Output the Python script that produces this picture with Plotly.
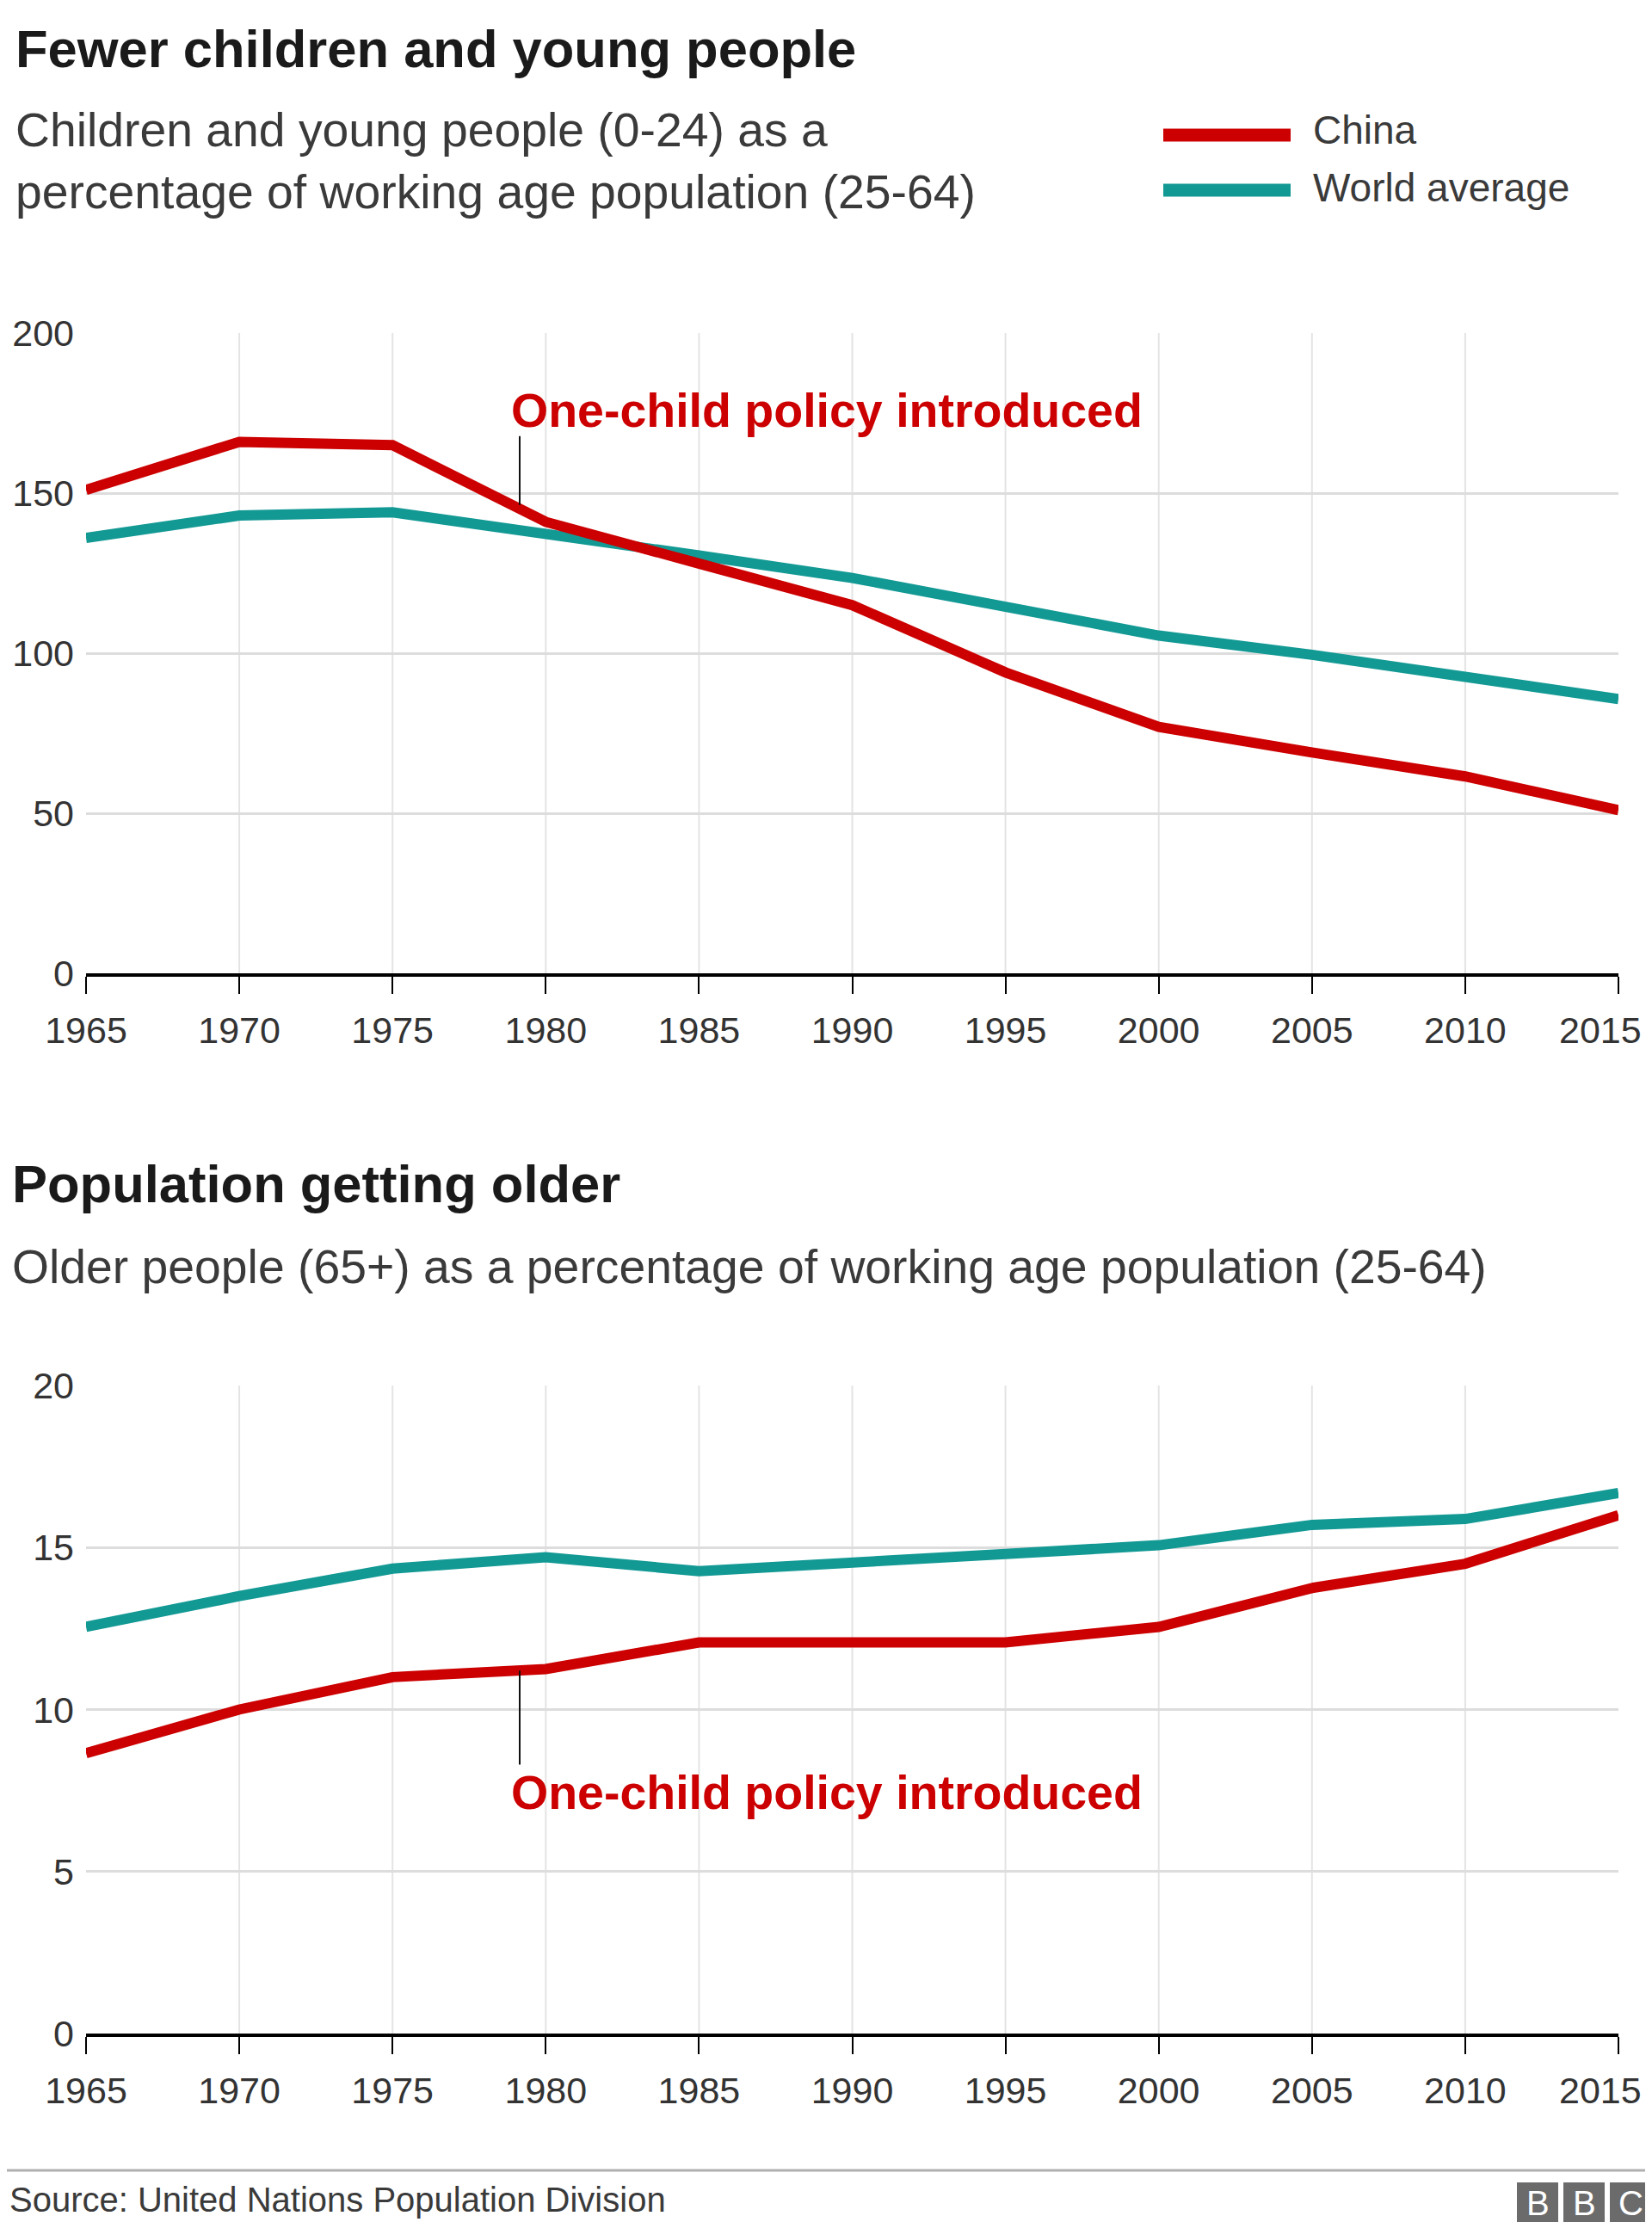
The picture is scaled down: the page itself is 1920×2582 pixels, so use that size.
import plotly.graph_objects as go

# ---------------- data ----------------
YEARS = [1965, 1970, 1975, 1980, 1985, 1990, 1995, 2000, 2005, 2010, 2015]
YEAR_LABELS = ["1965", "1970", "1975", "1980", "1985", "1990", "1995", "2000", "2005", "2010", "2015"]

CHINA_YOUNG = [151, 166, 165, 141, 128, 115, 94, 77, 69, 61.5, 51]
WORLD_YOUNG = [136, 143, 144, 137.5, 130.5, 123.5, 114.5, 105.5, 99.5, 92.5, 85.7]

CHINA_OLD = [8.65, 10.0, 11.0, 11.25, 12.07, 12.07, 12.07, 12.55, 13.75, 14.5, 16.0]
WORLD_OLD = [12.55, 13.5, 14.35, 14.7, 14.27, 14.5, 14.8, 15.07, 15.7, 15.88, 16.68]

Y_TICKS_TOP = [0, 50, 100, 150, 200]
Y_TICKS_BOTTOM = [0, 5, 10, 15, 20]

SERIES_NAMES = ["China", "World average"]
POLICY_YEAR = 1979.15
POLICY_LABEL = "One-child policy introduced"

TITLE_TOP = "Fewer children and young people"
SUBTITLE_TOP = "Children and young people (0-24) as a<br>percentage of working age population (25-64)"
TITLE_BOTTOM = "Population getting older"
SUBTITLE_BOTTOM = "Older people (65+) as a percentage of working age population (25-64)"
SOURCE = "Source: United Nations Population Division"

# ---------------- style ----------------
PAGE_OFFSET = 8              # default body margin of the html page
W, H = 1920 - PAGE_OFFSET, 2582 - PAGE_OFFSET
FONT = "Liberation Sans, Arial, Helvetica, sans-serif"
RED = "#cc0000"
TEAL = "#139994"
TEXT = "#333333"
GRID_H = "#dddddd"
GRID_V = "#e4e4e4"
LINE_W = 12
TICK_SIZE = 43


def py(px):
    """screen pixel from top -> paper y"""
    return 1 - (px - PAGE_OFFSET) / H


def pxx(px):
    """screen pixel from left -> paper x"""
    return (px - PAGE_OFFSET) / W


X_DOM = [pxx(100), pxx(1881)]
Y_DOM_TOP = [py(1131), py(387)]
Y_DOM_BOT = [py(2363), py(1610)]

fig = go.Figure()

# top chart
fig.add_trace(go.Scatter(x=YEARS, y=WORLD_YOUNG, mode="lines", name=SERIES_NAMES[1],
                         line=dict(color=TEAL, width=LINE_W), xaxis="x", yaxis="y",
                         showlegend=False, hoverinfo="skip"))
fig.add_trace(go.Scatter(x=YEARS, y=CHINA_YOUNG, mode="lines", name=SERIES_NAMES[0],
                         line=dict(color=RED, width=LINE_W), xaxis="x", yaxis="y",
                         showlegend=False, hoverinfo="skip"))
# bottom chart
fig.add_trace(go.Scatter(x=YEARS, y=WORLD_OLD, mode="lines", name=SERIES_NAMES[1],
                         line=dict(color=TEAL, width=LINE_W), xaxis="x2", yaxis="y2",
                         showlegend=False, hoverinfo="skip"))
fig.add_trace(go.Scatter(x=YEARS, y=CHINA_OLD, mode="lines", name=SERIES_NAMES[0],
                         line=dict(color=RED, width=LINE_W), xaxis="x2", yaxis="y2",
                         showlegend=False, hoverinfo="skip"))

# the last year label is drawn right-aligned inside the page (as in the original)
tick_text = YEAR_LABELS[:-1] + [""]

xaxis_common = dict(
    range=[YEARS[0], YEARS[-1]], tickvals=YEARS, ticktext=tick_text,
    ticks="outside", ticklen=20, tickwidth=2, tickcolor="#000000",
    showline=True, linewidth=4, linecolor="#000000", showgrid=False, zeroline=False,
    tickfont=dict(family=FONT, size=TICK_SIZE, color=TEXT), domain=X_DOM, fixedrange=True,
    automargin=False, ticklabeloverflow="allow", ticklabelstandoff=5,
)
yaxis_common = dict(
    showgrid=True, gridcolor=GRID_H, gridwidth=3, ticks="", showline=False, zeroline=False,
    tickfont=dict(family=FONT, size=TICK_SIZE, color=TEXT), fixedrange=True, ticklabelstandoff=13,
    automargin=False, ticklabeloverflow="allow",
)

fig.update_layout(
    width=W, height=H, margin=dict(l=0, r=0, t=0, b=0, autoexpand=False),
    paper_bgcolor="white", plot_bgcolor="white",
    font=dict(family=FONT, color=TEXT),
    xaxis=dict(anchor="y", **xaxis_common),
    yaxis=dict(anchor="x", domain=Y_DOM_TOP, range=[Y_TICKS_TOP[0], Y_TICKS_TOP[-1]],
               tickvals=Y_TICKS_TOP, **yaxis_common),
    xaxis2=dict(anchor="y2", **xaxis_common),
    yaxis2=dict(anchor="x2", domain=Y_DOM_BOT, range=[Y_TICKS_BOTTOM[0], Y_TICKS_BOTTOM[-1]],
                tickvals=Y_TICKS_BOTTOM, **yaxis_common),
    showlegend=False,
)

shapes = []
# vertical gridlines (interior years only)
for xr, yr in (("x", "y"), ("x2", "y2")):
    for yv in YEARS[1:-1]:
        shapes.append(dict(type="line", xref=xr, yref=yr + " domain", x0=yv, x1=yv, y0=0, y1=1,
                           line=dict(color=GRID_V, width=2), layer="below"))

# policy annotation leader lines
shapes.append(dict(type="line", xref="x", yref="y", x0=POLICY_YEAR, x1=POLICY_YEAR,
                   y0=146.3, y1=167.8, line=dict(color="#111111", width=2)))
shapes.append(dict(type="line", xref="x2", yref="y2", x0=POLICY_YEAR, x1=POLICY_YEAR,
                   y0=8.3, y1=11.2, line=dict(color="#111111", width=2)))

# legend swatches
for col, ypx in ((RED, 157), (TEAL, 221)):
    shapes.append(dict(type="line", xref="paper", yref="paper", x0=pxx(1352), x1=pxx(1500),
                       y0=py(ypx), y1=py(ypx), line=dict(color=col, width=15)))

# footer rule
shapes.append(dict(type="line", xref="paper", yref="paper", x0=0, x1=1, y0=py(2522), y1=py(2522),
                   line=dict(color="#b0b0b0", width=3)))

# BBC blocks
for x0 in (1763, 1817, 1871):
    shapes.append(dict(type="rect", xref="paper", yref="paper", x0=pxx(x0), x1=pxx(min(x0 + 48, 1920)),
                       y0=py(2582), y1=py(2536), fillcolor="#6b6b6b", line=dict(width=0)))

annotations = []


def text(x_px, y_px, s, size, color=TEXT, bold=False, xanchor="left"):
    annotations.append(dict(
        xref="paper", yref="paper", x=pxx(x_px), y=py(y_px), text=("<b>%s</b>" % s) if bold else s,
        showarrow=False, xanchor=xanchor, yanchor="middle", align="left",
        font=dict(family=FONT, size=size, color=color)))


text(16, 56, TITLE_TOP, 61.5, color="#1a1a1a", bold=True)
text(16, 187, SUBTITLE_TOP, 55.3, color="#3a3a3a")
text(1524, 151, SERIES_NAMES[0], 46, color="#3a3a3a")
text(1524, 218, SERIES_NAMES[1], 46, color="#3a3a3a")
text(12, 1375, TITLE_BOTTOM, 61.5, color="#1a1a1a", bold=True)
text(12, 1472, SUBTITLE_BOTTOM, 55.3, color="#3a3a3a")
text(9, 2556, SOURCE, 40, color="#3a3a3a")

for i, letter in enumerate("BBC"):
    annotations.append(dict(xref="paper", yref="paper", x=pxx(1763 + 24 + 54 * i), y=py(2560),
                            text=letter, showarrow=False, xanchor="center", yanchor="middle",
                            font=dict(family=FONT, size=40, color="white")))

# last year label of each x axis, kept inside the page
for xr, yr in (("x", "y"), ("x2", "y2")):
    annotations.append(dict(xref=xr, yref=yr + " domain", x=YEARS[-1], y=0, text=YEAR_LABELS[-1],
                            showarrow=False, xanchor="right", yanchor="middle", xshift=29, yshift=-66,
                            font=dict(family=FONT, size=TICK_SIZE, color=TEXT)))

# policy labels
for xr, yr, yv in (("x", "y", 175.9), ("x2", "y2", 7.44)):
    annotations.append(dict(xref=xr, yref=yr, x=1978.8, y=yv, text="<b>%s</b>" % POLICY_LABEL,
                            showarrow=False, xanchor="left", yanchor="middle",
                            font=dict(family=FONT, size=55.5, color=RED)))

fig.update_layout(shapes=shapes, annotations=annotations)

fig.write_html("out.html")
